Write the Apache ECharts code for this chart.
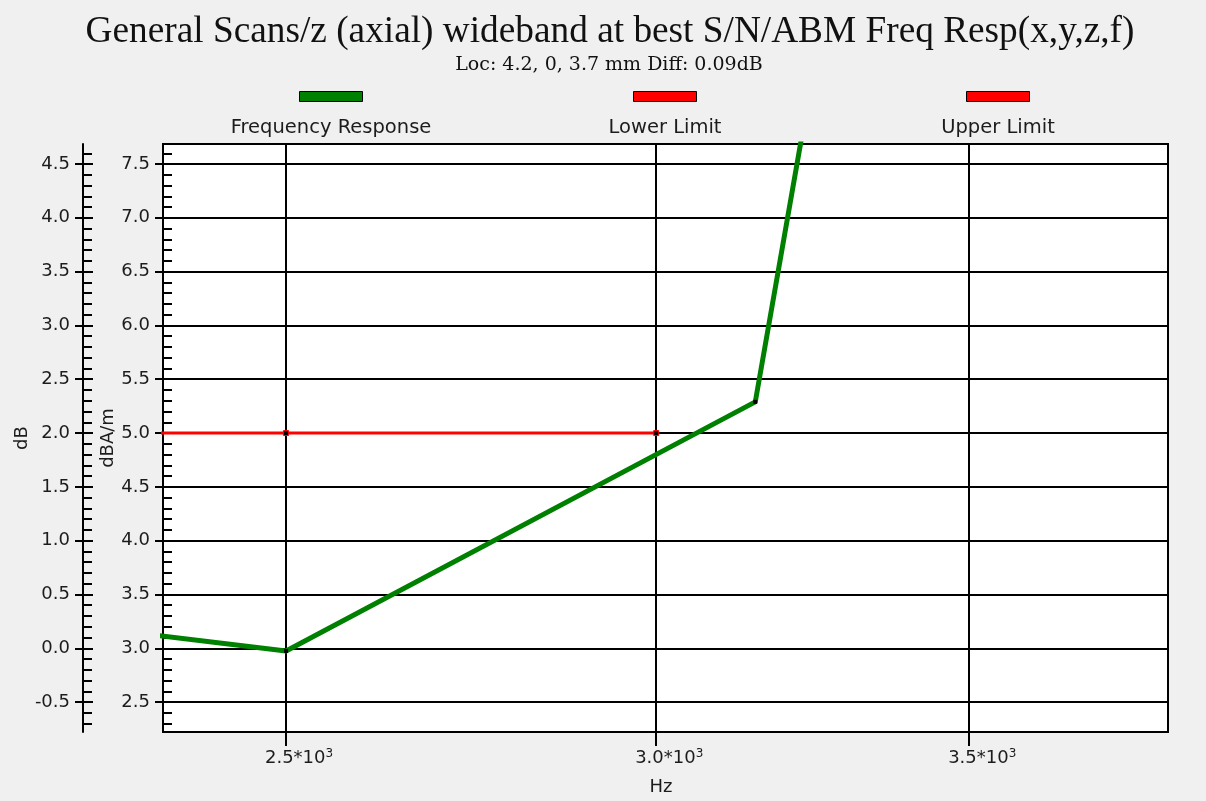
<!DOCTYPE html>
<html>
<head>
<meta charset="utf-8">
<title>General Scans/z (axial) wideband</title>
<script src="https://cdn.jsdelivr.net/npm/echarts@6/dist/echarts.min.js"></script>
<style>
  html, body { margin: 0; padding: 0; background: #f0f0f0; }
  #chart { width: 1206px; height: 801px; }
</style>
</head>
<body>
<div id="chart"></div>
<script>
// ---- data ----
const seriesNames = ['Frequency Response', 'Lower Limit', 'Upper Limit'];
const seriesColors = ['#008000', '#ff0000', '#ff0000'];

// frequency response, 1/3-octave points (Hz) and level (dBA/m)
const responseFreqHz = [2000, 2500, 3150, 4000];
const responseDbaPerM = [3.48, 2.975, 5.29, 31.0];

// limit lines (dBA/m)
const lowerLimitFreqHz = [2000, 2500, 3000];
const lowerLimitDbaPerM = [5.0, 5.0, 5.0];
const upperLimitFreqHz = [];
const upperLimitDbaPerM = [];

// axes
const freqRangeHz = [2353, 3860];
const xTickHz = [2500, 3000, 3500];
const xTickMantissa = ['2.5', '3.0', '3.5'];
const xTickExponent = ['3', '3', '3'];
const dbaRange = [2.222, 7.686];
const dbRange = [-0.778, 4.686];
const dbaTicks = [2.5, 3.0, 3.5, 4.0, 4.5, 5.0, 5.5, 6.0, 6.5, 7.0, 7.5];
const dbTicks = [-0.5, 0.0, 0.5, 1.0, 1.5, 2.0, 2.5, 3.0, 3.5, 4.0, 4.5];

// ---- chart ----
const SANS = '"DejaVu Sans", Verdana, sans-serif';
const SERIF = '"Liberation Serif", "Times New Roman", serif';
const SERIF_WIDE = '"DejaVu Serif", serif';
const INK = '#1c1c1c';

const log10 = Math.log10;
const pairs = (xs, ys) => xs.map((x, i) => [log10(x), ys[i]]);
const xTickLog = xTickHz.map(log10);

function xLabel(v) {
  let best = 0;
  xTickLog.forEach((t, i) => { if (Math.abs(t - v) < Math.abs(xTickLog[best] - v)) best = i; });
  return '{m|' + xTickMantissa[best] + '*10}{e|' + xTickExponent[best] + '}';
}

function valueAxis(range, ticks, opts) {
  const base = {
    type: 'value',
    position: 'left',
    min: range[0],
    max: range[1],
    splitNumber: 11,
    axisLine: { show: opts.labels, onZero: false, lineStyle: { color: '#000', width: 2 } },
    axisTick: {
      show: true,
      inside: opts.labels,
      length: opts.labels ? 10 : 8,
      customValues: ticks,
      lineStyle: { color: '#000', width: 2 }
    },
    minorTick: {
      show: opts.labels,
      splitNumber: 5,
      length: 9,
      lineStyle: { color: '#000', width: 2 }
    },
    axisLabel: {
      show: opts.labels,
      customValues: ticks,
      margin: 13,
      formatter: v => v.toFixed(1),
      fontFamily: SANS,
      fontSize: 18,
      color: INK
    },
    splitLine: { show: false },
    minorSplitLine: { show: false },
    offset: opts.offset
  };
  if (opts.name) {
    Object.assign(base, {
      name: opts.name,
      nameLocation: 'middle',
      nameRotate: 90,
      nameGap: opts.nameGap,
      nameMoveOverlap: false,
      nameTextStyle: { fontFamily: SANS, fontSize: 18, color: INK }
    });
  }
  if (opts.grid) {
    base.splitLine = { show: true, lineStyle: { color: '#000', width: 2 } };
  }
  return base;
}

const legendLeft = [299, 633, 966];
const legendCenter = [331, 665, 998];

const option = {
  backgroundColor: '#f0f0f0',
  animation: false,
  title: [
    {
      text: 'General Scans/z (axial) wideband at best S/N/ABM Freq Resp(x,y,z,f)',
      left: 610, top: 14, padding: 0, textAlign: 'center',
      textStyle: { fontFamily: SERIF, fontSize: 37.3, fontWeight: 'normal', color: '#111' }
    },
    {
      text: 'Loc: 4.2, 0, 3.7 mm Diff: 0.09dB',
      left: 609, top: 56, padding: 0, textAlign: 'center',
      textStyle: { fontFamily: SERIF_WIDE, fontSize: 19, fontWeight: 'normal', color: '#111' }
    }
  ].concat(seriesNames.map((n, i) => ({
    text: n,
    left: legendCenter[i], top: 118, padding: 0, textAlign: 'center',
    textStyle: { fontFamily: SANS, fontSize: 19.5, fontWeight: 'normal', color: INK }
  }))),
  legend: seriesNames.map((n, i) => ({
    data: [{ name: n, itemStyle: { color: seriesColors[i] } }],
    left: legendLeft[i],
    top: 91,
    padding: 0,
    icon: 'rect',
    itemWidth: 63,
    itemHeight: 10,
    itemGap: 0,
    itemStyle: { borderColor: '#000', borderWidth: 1 },
    formatter: () => '',
    textStyle: { fontSize: 1 }
  })),
  grid: {
    left: 163, right: 38, top: 144, bottom: 69,
    outerBoundsMode: 'none',
    show: true,
    backgroundColor: '#ffffff',
    borderColor: '#000',
    borderWidth: 2
  },
  xAxis: {
    type: 'value',
    min: log10(freqRangeHz[0]),
    max: log10(freqRangeHz[1]),
    name: 'Hz',
    nameLocation: 'middle',
    nameGap: 46,
    nameMoveOverlap: false,
    nameTextStyle: { fontFamily: SANS, fontSize: 18, color: INK, padding: [0, 9, 0, 0] },
    axisLine: { show: true, onZero: false, lineStyle: { color: '#000', width: 2 } },
    axisTick: { show: true, customValues: xTickLog, length: 14, lineStyle: { color: '#000', width: 2 } },
    axisLabel: {
      customValues: xTickLog,
      margin: 16,
      padding: [0, 0, 0, 26],
      formatter: xLabel,
      rich: {
        m: { fontFamily: SANS, fontSize: 18, color: INK, lineHeight: 20 },
        e: { fontFamily: SANS, fontSize: 12, color: INK, verticalAlign: 'top', lineHeight: 12 }
      }
    },
    splitLine: { show: true, lineStyle: { color: '#000', width: 2 } }
  },
  yAxis: [
    valueAxis(dbaRange, dbaTicks, { labels: true, offset: 0, name: 'dBA/m', nameGap: 46, grid: true }),
    valueAxis(dbaRange, dbaTicks, { labels: false, offset: 0 }),
    valueAxis(dbRange, dbTicks, { labels: true, offset: 80, name: 'dB', nameGap: 52 }),
    valueAxis(dbRange, dbTicks, { labels: false, offset: 80 })
  ],
  series: [
    {
      name: seriesNames[0],
      type: 'line',
      yAxisIndex: 0,
      data: pairs(responseFreqHz, responseDbaPerM),
      lineStyle: { color: seriesColors[0], width: 5 },
      itemStyle: { color: '#000' },
      symbol: 'rect',
      symbolSize: 4,
      showSymbol: true,
      clip: true,
      z: 4
    },
    {
      name: seriesNames[1],
      type: 'line',
      yAxisIndex: 0,
      data: pairs(lowerLimitFreqHz, lowerLimitDbaPerM),
      lineStyle: { color: seriesColors[1], width: 3 },
      itemStyle: { color: '#000', borderColor: '#ff0000', borderWidth: 1 },
      symbol: 'rect',
      symbolSize: 5,
      clip: true,
      z: 3
    },
    {
      name: seriesNames[2],
      type: 'line',
      yAxisIndex: 0,
      data: pairs(upperLimitFreqHz, upperLimitDbaPerM),
      lineStyle: { color: seriesColors[2], width: 3 },
      itemStyle: { color: seriesColors[2] },
      clip: true,
      z: 3
    }
  ]
};

const chart = echarts.init(document.getElementById('chart'), null, { renderer: 'canvas' });
chart.setOption(option);
</script>
</body>
</html>
